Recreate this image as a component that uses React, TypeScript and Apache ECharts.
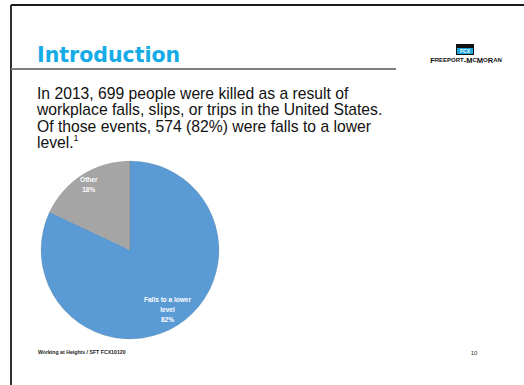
import React, { useEffect, useRef } from "react";
import * as echarts from "echarts";

const categories = ["Falls to a lower level", "Other"];
const sliceLabels = ["Falls to a lower\nlevel", "Other"];
const values = [82, 18];
const colors = ["#5B9BD5", "#A5A5A5"];

const titleText = "Introduction";
const bodyLines = [
  "In 2013, 699 people were killed as a result of",
  "workplace falls, slips, or trips in the United States.",
  "Of those events, 574 (82%) were falls to a lower",
];
const lastLine = "level.";
const footnoteMark = "1";
const footerText = "Working at Heights / SFT FCX10120";
const pageNumber = "10";

export default function App() {
  const ref = useRef<HTMLDivElement>(null);
  useEffect(() => {
    if (!ref.current) return;
    const chart = echarts.init(ref.current, null, { renderer: "svg" });
    const data = categories.map((c, i) => ({
      name: c,
      value: values[i],
      itemStyle: { color: colors[i] },
    }));
    const labelSeries = (idx: number, r0: number) => ({
      type: "pie",
      center: [130, 250],
      radius: [r0, 89],
      startAngle: 90,
      clockwise: true,
      silent: true,
      avoidLabelOverlap: false,
      z: 5,
      data: categories.map((c, i) => ({
        name: c,
        value: values[i],
        itemStyle: { color: "rgba(0,0,0,0)" },
        label: { show: i === idx },
      })),
      label: {
        position: "inside",
        color: "#ffffff",
        fontFamily: "Liberation Sans",
        fontWeight: "bold",
        fontSize: 6.5,
        lineHeight: 10,
        align: "center",
        formatter: (p: any) => `${sliceLabels[p.dataIndex]}\n${Math.round(p.percent)}%`,
      },
      labelLine: { show: false },
      emphasis: { disabled: true },
    });
    chart.setOption({
      animation: false,
      backgroundColor: "#ffffff",
      series: [
        {
          type: "pie",
          center: [130, 250],
          radius: 89,
          startAngle: 90,
          clockwise: true,
          silent: true,
          data,
          label: { show: false },
          labelLine: { show: false },
          itemStyle: { borderColor: "rgba(90,90,90,0.25)", borderWidth: 0.5 },
          emphasis: { disabled: true },
        },
        labelSeries(0, 45),
        labelSeries(1, 59),
      ],
      graphic: [
        { type: "line", shape: { x1: 11, y1: 5, x2: 524, y2: 5 }, style: { stroke: "#1a1a1a", lineWidth: 1.8 } },
        { type: "line", shape: { x1: 11, y1: 5, x2: 11, y2: 385 }, style: { stroke: "#1a1a1a", lineWidth: 1.8 } },
        {
          type: "text",
          x: 37,
          y: 55,
          style: {
            text: titleText,
            fontFamily: "DejaVu Sans",
            fontWeight: "bold",
            fontSize: 20.5,
            fill: "#14ABE6",
            verticalAlign: "middle",
          },
        },
        { type: "line", shape: { x1: 11, y1: 69, x2: 396, y2: 69 }, style: { stroke: "#7F7F7F", lineWidth: 2 } },
        { type: "rect", shape: { x: 456, y: 44, width: 18, height: 11 }, style: { fill: "#111111" } },
        { type: "rect", shape: { x: 457, y: 48, width: 16, height: 6 }, style: { fill: "#1BA6DC" } },
        {
          type: "text",
          x: 465,
          y: 51,
          style: {
            text: "FCX",
            fontFamily: "Liberation Sans",
            fontWeight: "bold",
            fontSize: 5,
            fill: "#ffffff",
            align: "center",
            verticalAlign: "middle",
          },
        },
        {
          type: "text",
          x: 466,
          y: 60,
          style: {
            text: "{b|F}{s|REEPORT}{b|-M}{s|C}{b|M}{s|O}{b|R}{s|AN}",
            align: "center",
            verticalAlign: "middle",
            rich: {
              b: { fontFamily: "Liberation Sans", fontWeight: "bold", fontSize: 7.5, fill: "#111111" },
              s: { fontFamily: "Liberation Sans", fontWeight: "bold", fontSize: 6, fill: "#111111" },
            },
          },
        },
        ...bodyLines.map((t, i) => ({
          type: "text",
          x: 37,
          y: 93.5 + i * 16.3,
          style: {
            text: t,
            fontFamily: "Liberation Sans",
            fontSize: 15.7,
            fill: "#111111",
            verticalAlign: "middle",
          },
        })),
        {
          type: "text",
          x: 37,
          y: 93.5 + 3 * 16.3,
          style: {
            text: `{n|${lastLine}}{s|${footnoteMark}}`,
            verticalAlign: "middle",
            rich: {
              n: { fontFamily: "Liberation Sans", fontSize: 15.7, fill: "#111111" },
              s: { fontFamily: "Liberation Sans", fontSize: 9, fill: "#111111", verticalAlign: "top", padding: [0, 0, 8, 0] },
            },
          },
        },
        {
          type: "text",
          x: 38,
          y: 352,
          style: {
            text: footerText,
            fontFamily: "Liberation Sans",
            fontWeight: "bold",
            fontSize: 5.2,
            fill: "#222222",
            verticalAlign: "middle",
          },
        },
        {
          type: "text",
          x: 474,
          y: 353,
          style: {
            text: pageNumber,
            fontFamily: "Liberation Sans",
            fontSize: 6,
            fill: "#333333",
            align: "center",
            verticalAlign: "middle",
          },
        },
      ],
    });
    return () => chart.dispose();
  }, []);
  return (
    <div
      ref={ref}
      style={{ position: "absolute", left: 0, top: 0, width: 524, height: 385 }}
    />
  );
}
